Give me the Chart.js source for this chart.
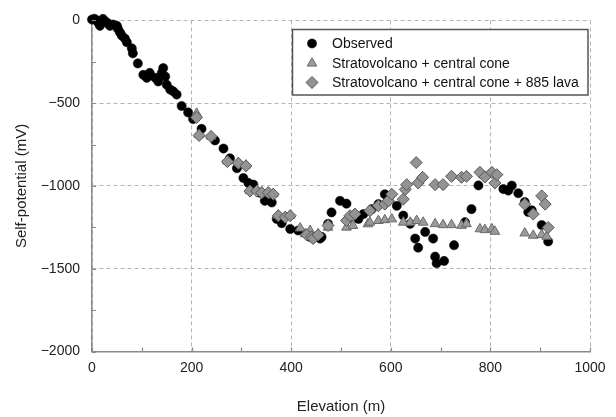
<!DOCTYPE html>
<html><head><meta charset="utf-8">
<script src="https://cdn.jsdelivr.net/npm/chart.js@4"></script>
<style>html,body{margin:0;padding:0;background:#fff}#wrap{width:616px;height:417px}</style>
</head><body><div id="wrap"><canvas id="c" width="616" height="417"></canvas></div>
<script>
const seriesNames = ["Observed", "Stratovolcano + central cone", "Stratovolcano + central cone + 885 lava"];
const xTitle = "Elevation (m)";
const yTitle = "Self-potential (mV)";

const observedElev = [0,5,9,13,16,22,26,30,36,42,50,52,56,60,66,70,80,82,92,103,110,116,127,133,140,143,147,150,157,163,170,180,193,203,220,247,264,277,291,304,314,324,337,347,361,371,381,398,414,431,438,458,461,474,481,498,511,535,545,562,575,588,595,612,625,639,649,655,669,685,689,692,707,727,749,762,776,826,836,843,856,869,876,883,903,916];
const observedSP = [5,10,0,-15,-33,9,-5,-13,-33,-25,-33,-50,-72,-92,-110,-132,-169,-199,-260,-329,-347,-317,-347,-369,-317,-288,-339,-388,-418,-428,-448,-517,-556,-596,-655,-725,-774,-833,-893,-952,-982,-992,-1041,-1090,-1100,-1199,-1225,-1260,-1269,-1289,-1308,-1318,-1308,-1229,-1160,-1090,-1107,-1199,-1170,-1140,-1110,-1050,-1070,-1120,-1179,-1229,-1318,-1373,-1278,-1318,-1427,-1467,-1453,-1358,-1219,-1140,-997,-1019,-1028,-998,-1044,-1097,-1157,-1147,-1236,-1335];

const coneElev = [210,215,239,272,294,309,317,331,341,354,364,374,388,398,418,428,438,441,454,474,511,524,554,558,575,588,602,625,639,652,665,689,705,722,742,752,779,789,803,809,869,886,903,913];
const coneSP = [-562,-690,-700,-850,-860,-875,-1028,-1028,-1038,-1038,-1048,-1178,-1186,-1178,-1255,-1290,-1270,-1305,-1290,-1250,-1250,-1240,-1230,-1220,-1210,-1205,-1200,-1220,-1220,-1210,-1220,-1229,-1235,-1235,-1239,-1229,-1260,-1265,-1260,-1275,-1285,-1299,-1295,-1305];

const lavaElev = [210,215,239,272,294,309,317,331,341,354,364,374,388,398,431,441,444,454,474,511,518,528,558,575,588,595,602,625,629,632,651,655,664,689,705,722,742,752,779,789,803,809,813,869,886,903,910,916];
const lavaSP = [-586,-695,-701,-853,-863,-879,-1031,-1031,-1041,-1041,-1050,-1180,-1189,-1180,-1295,-1308,-1318,-1296,-1239,-1209,-1180,-1170,-1150,-1120,-1110,-1090,-1050,-1080,-1021,-992,-859,-982,-948,-992,-992,-942,-948,-942,-918,-946,-918,-982,-932,-1110,-1170,-1060,-1110,-1251];

const xTicks = [0,200,400,600,800,1000];
const yTicks = [0,-500,-1000,-1500,-2000];

function pts(xs, ys){ return xs.map((x,i)=>({x:x, y:ys[i]})); }

const FONT = "'Liberation Sans', Arial, sans-serif";

const minorTicks = {
  id: 'minorTicks',
  afterDraw(chart){
    const ctx = chart.ctx, xs = chart.scales.x, ys = chart.scales.y;
    const a = chart.chartArea;
    ctx.save();
    ctx.strokeStyle = '#8a8a8a'; ctx.lineWidth = 1.2;
    ctx.beginPath();
    for (let v = xs.min; v <= xs.max; v += 100){
      const p = Math.round(xs.getPixelForValue(v)) + 0.5;
      ctx.moveTo(p, a.bottom); ctx.lineTo(p, a.bottom - 4);
    }
    for (let v = ys.min; v <= ys.max; v += 250){
      const p = Math.round(ys.getPixelForValue(v)) + 0.5;
      ctx.moveTo(a.left, p); ctx.lineTo(a.left + 4, p);
    }
    ctx.stroke();
    ctx.restore();
  }
};

const boxLegend = {
  id: 'boxLegend',
  afterDraw(chart){
    const ctx = chart.ctx;
    const left = 292.5, top = 29.5, w = 295.5, h = 65.5;
    ctx.save();
    ctx.fillStyle = '#fff';
    ctx.fillRect(left, top, w, h);
    ctx.strokeStyle = '#555'; ctx.lineWidth = 1.5;
    ctx.strokeRect(left, top, w, h);
    const rows = [43.5, 63.3, 82.5];
    ctx.font = "14px " + FONT;
    ctx.textBaseline = 'middle';
    chart.data.datasets.forEach((ds, i) => {
      const y = rows[i], x = 312;
      ctx.fillStyle = ds.backgroundColor; ctx.strokeStyle = ds.borderColor; ctx.lineWidth = ds.borderWidth;
      const style = {pointStyle: ds.pointStyle, radius: ds.pointRadius, borderWidth: ds.borderWidth, rotation: 0};
      Chart.helpers.drawPoint(ctx, style, x, y);
      ctx.fillStyle = '#111';
      ctx.fillText(ds.label, 332, y + 0.5);
    });
    ctx.restore();
  }
};

const gridColor = (ctx) => '#b4b4b4';

new Chart(document.getElementById('c'), {
  type: 'scatter',
  data: {
    datasets: [
      { label: seriesNames[0], data: pts(observedElev, observedSP), pointStyle: 'circle', pointRadius: 4.6, pointHoverRadius: 4.6,
        backgroundColor: '#000', borderColor: '#000', borderWidth: 0.5, order: 3, clip: false },
      { label: seriesNames[1], data: pts(coneElev, coneSP), pointStyle: 'triangle', pointRadius: 5.6, pointHoverRadius: 5.6,
        backgroundColor: '#9a9a9a', borderColor: '#6a6a6a', borderWidth: 1, order: 2, clip: false },
      { label: seriesNames[2], data: pts(lavaElev, lavaSP), pointStyle: 'rectRot', pointRadius: 6, pointHoverRadius: 6,
        backgroundColor: '#939393', borderColor: '#575757', borderWidth: 1, order: 1, clip: false }
    ]
  },
  options: {
    responsive: false, animation: false, devicePixelRatio: 1,
    layout: { padding: { left: 0, right: 26, top: 14.5, bottom: 0 } },
    plugins: { legend: { display: false }, tooltip: { enabled: false } },
    scales: {
      x: {
        type: 'linear', min: 0, max: 1000,
        afterBuildTicks: (s) => { s.ticks = xTicks.map(v => ({value: v})); },
        afterFit: (s) => { s.height = 65.5; },
        ticks: { color: '#222', font: { family: FONT, size: 14 }, padding: 8, maxRotation: 0,
          callback: (v) => String(v) },
        grid: { color: gridColor, lineWidth: 1, drawTicks: false },
        border: { display: true, color: '#8a8a8a', width: 1.5, dash: [4, 3] },
        title: { display: true, text: xTitle, color: '#222', font: { family: FONT, size: 15 }, padding: { top: 0, bottom: 1 } }
      },
      y: {
        type: 'linear', min: -2000, max: 0,
        afterBuildTicks: (s) => { s.ticks = yTicks.map(v => ({value: v})); },
        afterFit: (s) => { s.width = 92; },
        ticks: { color: '#222', font: { family: FONT, size: 14 }, padding: 12,
          callback: (v) => String(v).replace('-', '\u2212') },
        grid: { color: gridColor, lineWidth: 1, drawTicks: false },
        border: { display: true, color: '#8a8a8a', width: 1.5, dash: [4, 3] },
        title: { display: true, text: yTitle, color: '#222', font: { family: FONT, size: 15 }, padding: { top: 13, bottom: 0 } }
      }
    }
  },
  plugins: [minorTicks, boxLegend]
});
</script>
</body></html>
